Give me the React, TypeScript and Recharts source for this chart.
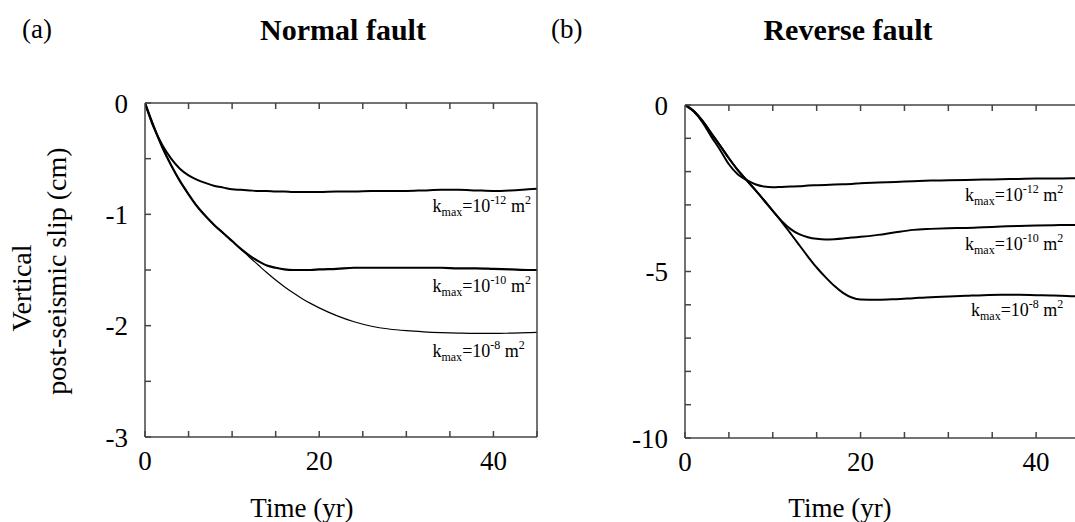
import { LineChart, Line, XAxis, YAxis, ReferenceDot, ReferenceLine } from 'recharts'

// time axis shared by both panels (yr)
const years = [0, 1, 2, 3, 4, 5, 6, 7, 8, 9, 10, 11, 12, 13, 14, 15, 16, 17, 18, 19, 20, 22, 24, 26, 28, 30, 32, 34, 36, 38, 40, 42, 44, 45]

// (a) normal fault, vertical post-seismic slip (cm)
const normalK12 = [0, -0.22, -0.38, -0.5, -0.59, -0.65, -0.69, -0.72, -0.745, -0.76, -0.775, -0.78, -0.785, -0.79, -0.79, -0.795, -0.795, -0.8, -0.8, -0.8, -0.8, -0.795, -0.795, -0.79, -0.79, -0.79, -0.785, -0.78, -0.78, -0.785, -0.79, -0.785, -0.775, -0.77]
const normalK10 = [0, -0.21, -0.4, -0.56, -0.7, -0.82, -0.93, -1.02, -1.1, -1.17, -1.24, -1.31, -1.37, -1.42, -1.46, -1.48, -1.495, -1.5, -1.5, -1.5, -1.495, -1.49, -1.48, -1.48, -1.48, -1.48, -1.48, -1.48, -1.485, -1.485, -1.49, -1.495, -1.5, -1.5]
const normalK8 = [0, -0.21, -0.4, -0.56, -0.7, -0.82, -0.93, -1.02, -1.1, -1.17, -1.24, -1.31, -1.385, -1.455, -1.525, -1.59, -1.65, -1.705, -1.755, -1.8, -1.84, -1.91, -1.965, -2.005, -2.03, -2.045, -2.055, -2.062, -2.067, -2.07, -2.07, -2.067, -2.063, -2.06]

// (b) reverse fault
const reverseK12 = [0, -0.2, -0.52, -0.95, -1.35, -1.78, -2.08, -2.25, -2.38, -2.45, -2.47, -2.46, -2.45, -2.44, -2.42, -2.41, -2.4, -2.39, -2.38, -2.37, -2.35, -2.33, -2.31, -2.29, -2.27, -2.26, -2.25, -2.24, -2.23, -2.22, -2.21, -2.21, -2.2, -2.2]
const reverseK10 = [0, -0.18, -0.48, -0.85, -1.22, -1.6, -1.95, -2.25, -2.55, -2.86, -3.18, -3.48, -3.72, -3.88, -3.97, -4.02, -4.04, -4.03, -4.01, -3.98, -3.96, -3.9, -3.82, -3.75, -3.72, -3.7, -3.69, -3.67, -3.65, -3.63, -3.62, -3.61, -3.6, -3.6]
const reverseK8 = [0, -0.18, -0.48, -0.85, -1.22, -1.6, -1.95, -2.25, -2.55, -2.86, -3.18, -3.5, -3.85, -4.2, -4.55, -4.88, -5.17, -5.43, -5.64, -5.78, -5.84, -5.85, -5.83, -5.8, -5.77, -5.75, -5.73, -5.71, -5.7, -5.7, -5.71, -5.72, -5.74, -5.74]

const xTicks = [0, 5, 10, 15, 20, 25, 30, 35, 40, 45]
const xLabels = [0, 20, 40]
const normalTicks = [-3, -2.5, -2, -1.5, -1, -0.5, 0]
const normalLabels = [-3, -2, -1, 0]
const reverseTicks = [-10, -9, -8, -7, -6, -5, -4, -3, -2, -1, 0]
const reverseLabels = [-10, -5, 0]

// curve labels: exponent, anchor (right end, baseline) in data units
const normalNotes = [
  { exp: '-12', x: 44.3, y: -0.98 },
  { exp: '-10', x: 44.3, y: -1.7 },
  { exp: '-8', x: 43.6, y: -2.28 },
]
const reverseNotes = [
  { exp: '-12', x: 43.1, y: -2.89 },
  { exp: '-10', x: 43.1, y: -4.36 },
  { exp: '-8', x: 43.1, y: -6.34 },
]

const FONT = '"Liberation Serif", "DejaVu Serif", serif'
const AXIS = '#444'

const rows = (a: number[], b: number[], c: number[]) =>
  years.map((t, i) => ({ t, k12: a[i], k10: b[i], k8: c[i] }))

const tickStyle = { fontFamily: FONT, fontSize: 27, fill: '#000' }

function Note({ cx, cy, exp }: any) {
  return (
    <text x={cx} y={cy} textAnchor="end" fontFamily={FONT} fontSize={18} fill="#000">
      k<tspan fontSize={12} dy={4}>max</tspan>
      <tspan dy={-4}>=10</tspan>
      <tspan fontSize={12} dy={-8}>{exp}</tspan>
      <tspan dy={8}> m</tspan>
      <tspan fontSize={12} dy={-8}>2</tspan>
    </text>
  )
}

interface PanelProps {
  data: any[]
  domain: [number, number]
  yTicks: number[]
  yLabels: number[]
  notes: { exp: string; x: number; y: number }[]
  top: number
  leftWidth: number
  rightWidth: number
  bottom: number
  widths: [number, number, number]
  tickLen: number // inward tick length on the top frame, in y units
}

function Panel({ data, domain, yTicks, yLabels, notes, top, leftWidth, rightWidth, bottom, widths, tickLen }: PanelProps) {
  const yTop = domain[1]
  return (
    <LineChart width={545} height={522} data={data} margin={{ top, right: 0, bottom: 0, left: 0 }}>
      <XAxis
        xAxisId="b"
        dataKey="t"
        type="number"
        domain={[0, 45]}
        allowDataOverflow
        ticks={xTicks}
        tickFormatter={(v) => (xLabels.includes(v) ? String(v) : '')}
        tick={tickStyle}
        tickSize={-6}
        tickMargin={20}
        height={bottom}
        stroke={AXIS}
        strokeWidth={1.5}
      />
      <YAxis
        yAxisId="l"
        type="number"
        domain={domain}
        allowDataOverflow
        ticks={yTicks}
        tickFormatter={(v) => (yLabels.includes(v) ? String(v) : '')}
        tick={tickStyle}
        tickSize={-6}
        tickMargin={23}
        width={leftWidth}
        stroke={AXIS}
        strokeWidth={1.5}
      />
      <YAxis
        yAxisId="r"
        orientation="right"
        type="number"
        domain={domain}
        allowDataOverflow
        ticks={yTicks}
        tick={false}
        tickSize={-6}
        width={rightWidth}
        stroke={AXIS}
        strokeWidth={1.5}
      />
      {/* top frame with inward ticks */}
      <ReferenceLine xAxisId="b" yAxisId="l" y={yTop} stroke={AXIS} strokeWidth={1.5} ifOverflow="visible" />
      {xTicks.slice(1, -1).map((x) => (
        <ReferenceLine
          key={x}
          xAxisId="b"
          yAxisId="l"
          segment={[{ x, y: yTop }, { x, y: yTop - tickLen }]}
          stroke={AXIS}
          strokeWidth={1.5}
          ifOverflow="visible"
        />
      ))}
      <Line xAxisId="b" yAxisId="l" dataKey="k12" type="monotone" stroke="#000" strokeWidth={widths[0]} dot={false} isAnimationActive={false} />
      <Line xAxisId="b" yAxisId="l" dataKey="k10" type="monotone" stroke="#000" strokeWidth={widths[1]} dot={false} isAnimationActive={false} />
      <Line xAxisId="b" yAxisId="l" dataKey="k8" type="monotone" stroke="#000" strokeWidth={widths[2]} dot={false} isAnimationActive={false} />
      {notes.map((n) => (
        <ReferenceDot
          key={n.exp}
          xAxisId="b"
          yAxisId="l"
          x={n.x}
          y={n.y}
          r={0}
          ifOverflow="visible"
          shape={(p: any) => <Note cx={p.cx} cy={p.cy} exp={n.exp} />}
        />
      ))}
    </LineChart>
  )
}

export default function App() {
  return (
    <div style={{ position: 'fixed', left: 0, top: 0, width: 1075, height: 522, overflow: 'hidden', background: '#fff' }}>
      <div style={{ position: 'absolute', left: 0, top: 0 }}>
        <Panel
          data={rows(normalK12, normalK10, normalK8)}
          domain={[-3, 0]}
          yTicks={normalTicks}
          yLabels={normalLabels}
          notes={normalNotes}
          top={103}
          leftWidth={145}
          rightWidth={8}
          bottom={85}
          widths={[2, 2.2, 1.2]}
          tickLen={0.054}
        />
      </div>
      <div style={{ position: 'absolute', left: 545, top: 0 }}>
        <Panel
          data={rows(reverseK12, reverseK10, reverseK8)}
          domain={[-10, 0]}
          yTicks={reverseTicks}
          yLabels={reverseLabels}
          notes={reverseNotes}
          top={105}
          leftWidth={140}
          rightWidth={10}
          bottom={84}
          widths={[2, 2, 2]}
          tickLen={0.18}
        />
      </div>
      <svg width={1075} height={522} style={{ position: 'absolute', left: 0, top: 0, pointerEvents: 'none' }}>
        <g fontFamily={FONT} fill="#000">
          <text x={22} y={38} fontSize={27}>(a)</text>
          <text x={343} y={40} fontSize={30} fontWeight="bold" textAnchor="middle">Normal fault</text>
          <text x={551} y={38} fontSize={27}>(b)</text>
          <text x={848} y={40} fontSize={30} fontWeight="bold" textAnchor="middle">Reverse fault</text>
          <text transform="translate(31,288) rotate(-90)" fontSize={28} textAnchor="middle">Vertical</text>
          <text transform="translate(66,271) rotate(-90)" fontSize={28} textAnchor="middle">post-seismic slip (cm)</text>
          <text x={302} y={517} fontSize={27} textAnchor="middle">Time (yr)</text>
          <text x={840} y={517} fontSize={27} textAnchor="middle">Time (yr)</text>
        </g>
      </svg>
    </div>
  )
}
